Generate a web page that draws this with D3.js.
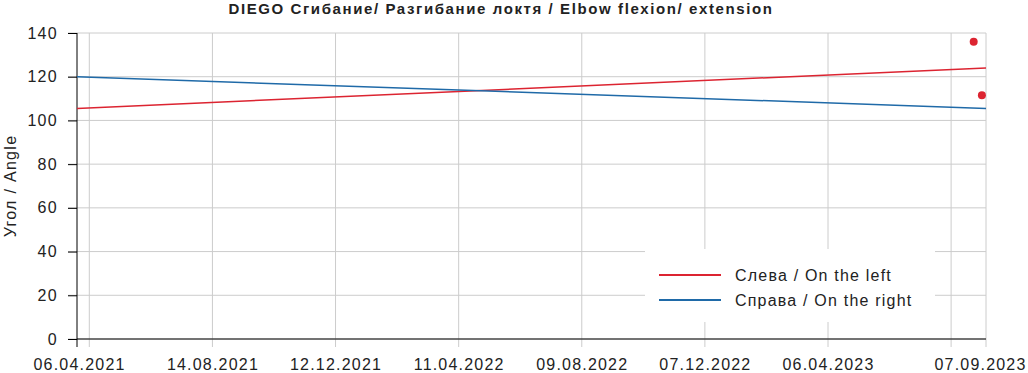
<!DOCTYPE html>
<html>
<head>
<meta charset="utf-8">
<script src="https://cdn.jsdelivr.net/npm/d3@7"></script>
<style>
body { margin:0; background:#fff; }
text { font-family: "Liberation Sans", Arial, sans-serif; }
</style>
</head>
<body>
<script>
let w = 1028, h = 373;
let parse = d3.timeParse("%d.%m.%Y");

// data
const title = "DIEGO Сгибание/ Разгибание локтя / Elbow flexion/ extension";
const yLabel = "Угол / Angle";
const seriesNames = ["Слева / On the left", "Справа / On the right"];
const seriesColors = ["#dc2431", "#1f6aa8"];
const domainDates = ["04.04.2021", "07.09.2023"];
const gridDates = ["16.04.2021","14.08.2021","12.12.2021","11.04.2022","09.08.2022","07.12.2022","06.04.2023","04.08.2023","07.09.2023"];
const labelDates = ["06.04.2021","14.08.2021","12.12.2021","11.04.2022","09.08.2022","07.12.2022","06.04.2023","07.09.2023"];
const leftTrend = [105.5, 124];
const rightTrend = [120, 105.5];
const pointDates = ["26.08.2023", "03.09.2023"];
const pointValues = [136, 111.5];
const yTicks = [0,20,40,60,80,100,120,140];

let margin = {left: 77, right: 42, top: 33, bottom: 34};
let x = d3.scaleTime()
    .domain(domainDates.map(parse))
    .range([margin.left, w - margin.right]);
let y = d3.scaleLinear()
    .domain([0, 140])
    .range([h - margin.bottom, margin.top]);

let svg = d3.select("body").append("svg")
    .attr("width", w).attr("height", h);

svg.append("text")
    .attr("x", 501).attr("y", 14)
    .attr("text-anchor", "middle")
    .attr("font-size", 15).attr("font-weight", "bold")
    .attr("letter-spacing", 1.6)
    .attr("fill", "#222")
    .text(title);

// grid
svg.append("g").selectAll("line")
    .data(yTicks).enter().append("line")
    .attr("x1", margin.left - 9).attr("x2", x.range()[1])
    .attr("y1", d => y(d)).attr("y2", d => y(d))
    .attr("stroke", "#cccccc");
svg.append("g").selectAll("line")
    .data(gridDates.map(parse)).enter().append("line")
    .attr("x1", d => x(d)).attr("x2", d => x(d))
    .attr("y1", y(140)).attr("y2", y(0) + 8)
    .attr("stroke", "#cccccc");

// axes
let yAxis = svg.append("g")
    .attr("transform", "translate(" + margin.left + ",0)")
    .call(d3.axisLeft(y).tickValues(yTicks).tickSize(9).tickPadding(10));
yAxis.select(".domain").attr("d", "M0," + y(140) + "V" + (y(0) + 8)).attr("stroke", "#000");
yAxis.selectAll(".tick line").attr("stroke", "#000");
yAxis.selectAll("text").attr("font-size", 16).attr("letter-spacing", 1.3)
    .attr("fill", "#222").attr("font-family", "Liberation Sans, Arial, sans-serif");

let xAxis = svg.append("g")
    .attr("transform", "translate(0," + y(0) + ")")
    .call(d3.axisBottom(x).tickValues(labelDates.map(parse)).tickSize(0).tickPadding(20)
        .tickFormat(d3.timeFormat("%d.%m.%Y")));
xAxis.select(".domain").attr("d", "M" + margin.left + ",0H" + x.range()[1]).attr("stroke", "#000");
xAxis.selectAll("text").attr("font-size", 16).attr("letter-spacing", 1.2)
    .attr("fill", "#222").attr("font-family", "Liberation Sans, Arial, sans-serif")
    .attr("dx", (d, i) => i === labelDates.length - 1 ? -6 : 0);

svg.append("text")
    .attr("transform", "translate(16," + ((y(0) + y(140)) / 2) + ") rotate(-90)")
    .attr("text-anchor", "middle")
    .attr("font-size", 16).attr("letter-spacing", 1.3).attr("fill", "#222")
    .text(yLabel);

// trend lines
let ends = domainDates.map(parse);
[leftTrend, rightTrend].forEach((t, i) => {
    svg.append("line")
        .attr("x1", x(ends[0])).attr("y1", y(t[0]))
        .attr("x2", x(ends[1])).attr("y2", y(t[1]))
        .attr("stroke", seriesColors[i]).attr("stroke-width", 1.5);
});

// points
svg.append("g").selectAll("circle")
    .data(pointDates).enter().append("circle")
    .attr("cx", d => x(parse(d)))
    .attr("cy", (d, i) => y(pointValues[i]))
    .attr("r", 4)
    .attr("fill", seriesColors[0]);

// legend
let lg = svg.append("g");
lg.append("rect")
    .attr("x", 645).attr("y", 249).attr("width", 290).attr("height", 73)
    .attr("fill", "#fff");
seriesNames.forEach((n, i) => {
    let yy = 275 + i * 25;
    lg.append("line")
        .attr("x1", 659).attr("x2", 721).attr("y1", yy).attr("y2", yy)
        .attr("stroke", seriesColors[i]).attr("stroke-width", 2);
    lg.append("text")
        .attr("x", 735).attr("y", yy + 6)
        .attr("font-size", 16).attr("letter-spacing", 1.2).attr("fill", "#222")
        .text(n);
});
</script>
</body>
</html>
